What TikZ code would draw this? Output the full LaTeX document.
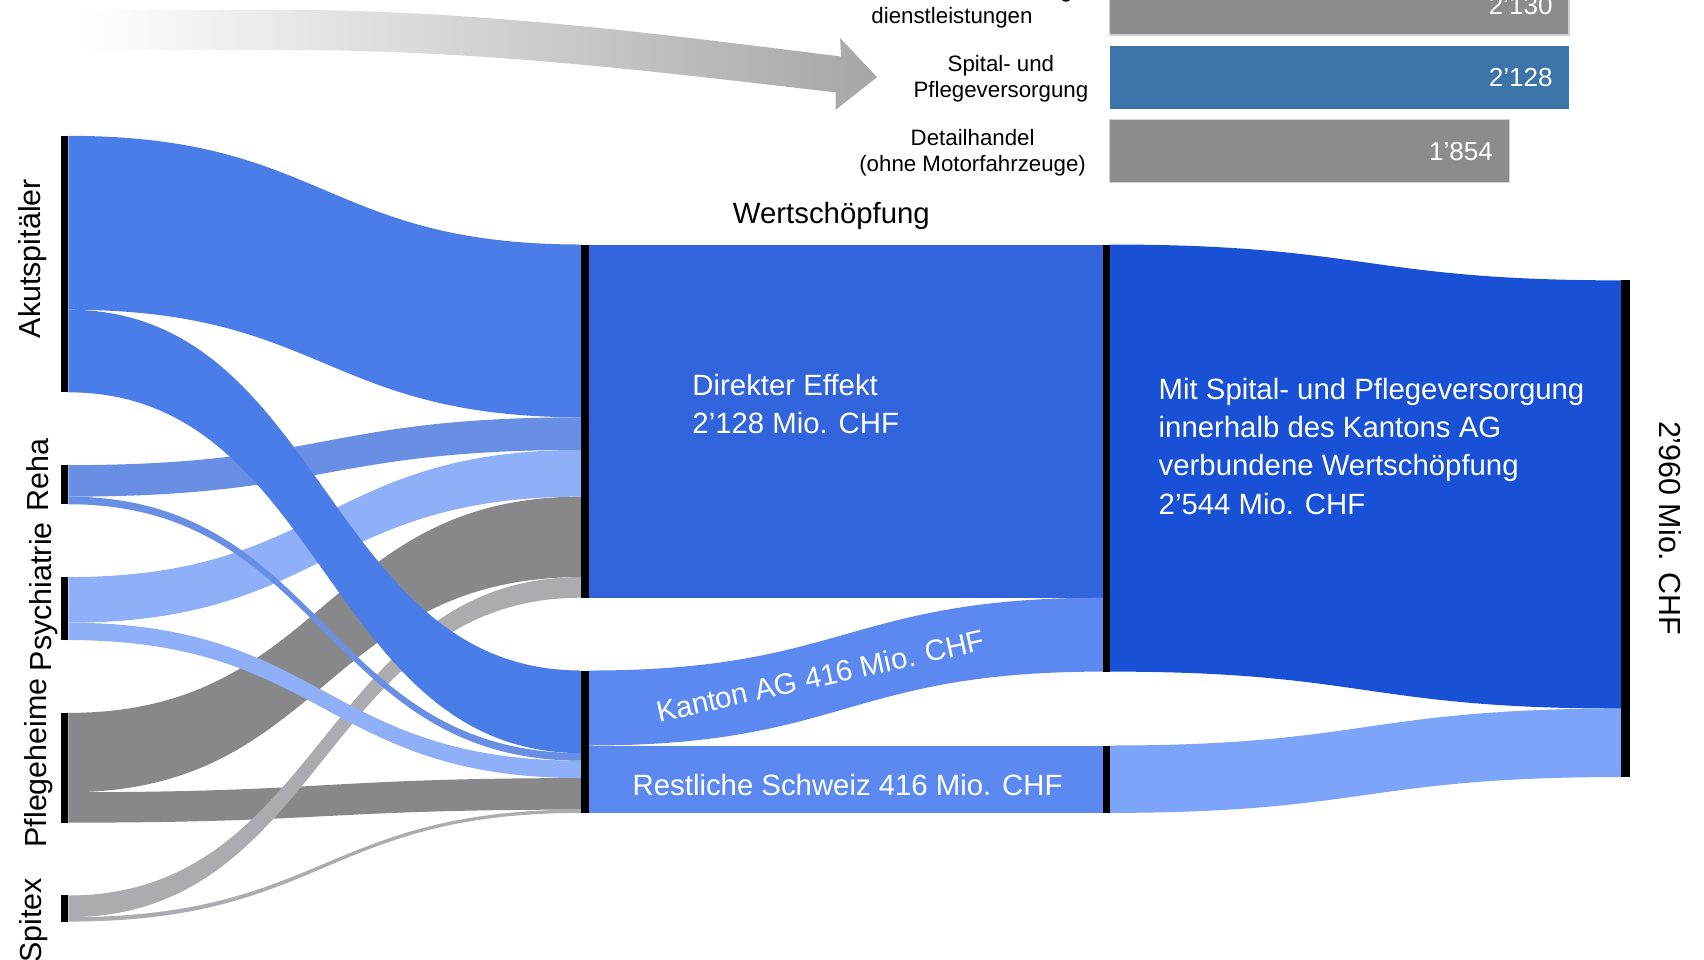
\documentclass[tikz,border=0pt]{standalone}
\usepackage{fontspec}
\setmainfont{Liberation Sans}
\definecolor{cAkut}{HTML}{4A7DE8}
\definecolor{cReha}{HTML}{688FE4}
\definecolor{cPsych}{HTML}{8FB0F8}
\definecolor{cPflege}{HTML}{88888A}
\definecolor{cSpitex}{HTML}{ACACB0}
\definecolor{cDirekt}{HTML}{3265DC}
\definecolor{cKanton}{HTML}{5B89F0}
\definecolor{cMit}{HTML}{1850D6}
\definecolor{cRestR}{HTML}{7CA4F8}
\definecolor{cBarBlue}{HTML}{3A74A8}
\definecolor{cBarGray}{HTML}{8C8C8C}
\definecolor{cBarEdge}{HTML}{D2D2D2}
\definecolor{cArrow}{HTML}{A6A6A8}
\newcommand\sflow[7]{\fill[#7] (#1,#2) .. controls ({(#1+#4)/2},#2) and ({(#1+#4)/2},#5) .. (#4,#5) -- (#4,#6) .. controls ({(#1+#4)/2},#6) and ({(#1+#4)/2},#3) .. (#1,#3) -- cycle;}
\tikzset{
  blackbar/.style={fill=black},
  whitelbl/.style={text=white, inner sep=0pt, font=\fontsize{27}{35}\selectfont},
  catlbl/.style={inner sep=0pt, anchor=base, font=\fontsize{28}{30}\selectfont},
  chartlbl/.style={inner sep=0pt, anchor=base, font=\fontsize{20.5}{24.5}\selectfont},
  barnum/.style={inner sep=0pt, anchor=base east, text=white, font=\fontsize{24}{28}\selectfont},
  hbar/.style={fill=cBarGray, draw=cBarEdge, line width=1.5pt},
}
\begin{document}
\begin{tikzpicture}[x=1pt,y=-1pt]
\useasboundingbox (0,0) rectangle (1568,883);
\fill[white] (0,0) rectangle (1568,883);

% gradient arrow
\shade[left color=white, right color=cArrow]
  (75,9) -- (265,9) .. controls (450,10) and (620,33) .. (774,52)
  -- (773,35) -- (807,71) -- (769,101) -- (769,85)
  .. controls (620,68) and (450,46) .. (265,46) -- (75,46) -- cycle;

% top bar chart
\node[chartlbl, anchor=base east] (gcut) at (987,-2) {g};
\node[chartlbl] (dienst) at (876,22) {dienstleistungen};
\node[chartlbl] (spital1) at (921,66) {Spital- und};
\node[chartlbl] (spital2) at (921,90) {Pflegeversorgung};
\node[chartlbl] (detail1) at (895,134) {Detailhandel};
\node[chartlbl] (detail2) at (895,158) {(ohne Motorfahrzeuge)};
\draw[hbar] (1021,-30) rectangle (1444,32);
\fill[cBarBlue] (1021,42) rectangle (1444,100);
\draw[hbar] (1021,110) rectangle (1389,168);
\node[barnum] (n1) at (1429,13) {2’130};
\node[barnum] (n2) at (1429,80) {2’128};
\node[barnum] (n3) at (1374,148) {1’854};

% title
\node[inner sep=0pt, anchor=base, font=\fontsize{27}{30}\selectfont] (title) at (765,206) {Wertschöpfung};

% flows left -> middle
\sflow{63}{656}{729}{535}{457}{531}{cPflege}
\sflow{63}{729}{757}{535}{716}{745}{cPflege}
\sflow{63}{824}{844}{535}{531}{550}{cSpitex}
\sflow{63}{844}{848}{535}{745}{748}{cSpitex}
\sflow{63}{531}{573}{535}{414}{457}{cPsych}
\sflow{63}{573}{589}{535}{700}{716}{cPsych}
\sflow{63}{428}{457}{535}{384}{414}{cReha}
\sflow{63}{457}{464}{535}{693}{700}{cReha}
\sflow{63}{125}{285}{535}{225}{384}{cAkut}
\sflow{63}{285}{361}{535}{617}{693}{cAkut}

% middle nodes
\fill[cDirekt] (542,225) rectangle (1015,550);
\sflow{542}{617}{686}{1015}{550}{618}{cKanton}
\fill[cKanton] (542,686) rectangle (1015,748);

% right flows
\sflow{1021}{225}{618}{1492}{258}{652}{cMit}
\sflow{1021}{686}{748}{1492}{652}{715}{cRestR}

% black bars
\fill[blackbar] (56,125) rectangle (63,361);
\fill[blackbar] (56,428) rectangle (63,464);
\fill[blackbar] (56,531) rectangle (63,589);
\fill[blackbar] (56,656) rectangle (63,757);
\fill[blackbar] (56,824) rectangle (63,848);
\fill[blackbar] (535,225) rectangle (542,550);
\fill[blackbar] (535,617) rectangle (542,748);
\fill[blackbar] (1015,225) rectangle (1021,618);
\fill[blackbar] (1015,686) rectangle (1021,748);
\fill[blackbar] (1492,258) rectangle (1500,715);

% category labels
\node[catlbl, rotate=90] (lAkut) at (37,238) {Akutspitäler};
\node[catlbl, rotate=90] (lReha) at (45,437) {Reha};
\node[catlbl, rotate=90] (lPsych) at (47,549) {Psychiatrie};
\node[catlbl, rotate=90] (lPflege) at (43,702) {Pflegeheime};
\node[catlbl, rotate=90] (lSpitex) at (38,847) {Spitex};
\node[catlbl, rotate=-90] (lTotal) at (1527,486) {2’960 Mio. CHF};

% white labels
\node[whitelbl, anchor=base west] (d1) at (637,364) {Direkter Effekt};
\node[whitelbl, anchor=base west] (d2) at (637,399) {2’128 Mio. CHF};
\node[whitelbl, anchor=base west] (m1) at (1066,368) {Mit Spital- und Pflegeversorgung};
\node[whitelbl, anchor=base west] (m2) at (1066,403) {innerhalb des Kantons AG};
\node[whitelbl, anchor=base west] (m3) at (1066,438) {verbundene Wertschöpfung};
\node[whitelbl, anchor=base west] (m4) at (1066,473) {2’544 Mio. CHF};
\node[whitelbl, anchor=base] (rs) at (780,732) {Restliche Schweiz 416 Mio. CHF};
\node[whitelbl, rotate=12.5] (ka) at (755,622) {Kanton AG 416 Mio. CHF};
\end{tikzpicture}
\end{document}
